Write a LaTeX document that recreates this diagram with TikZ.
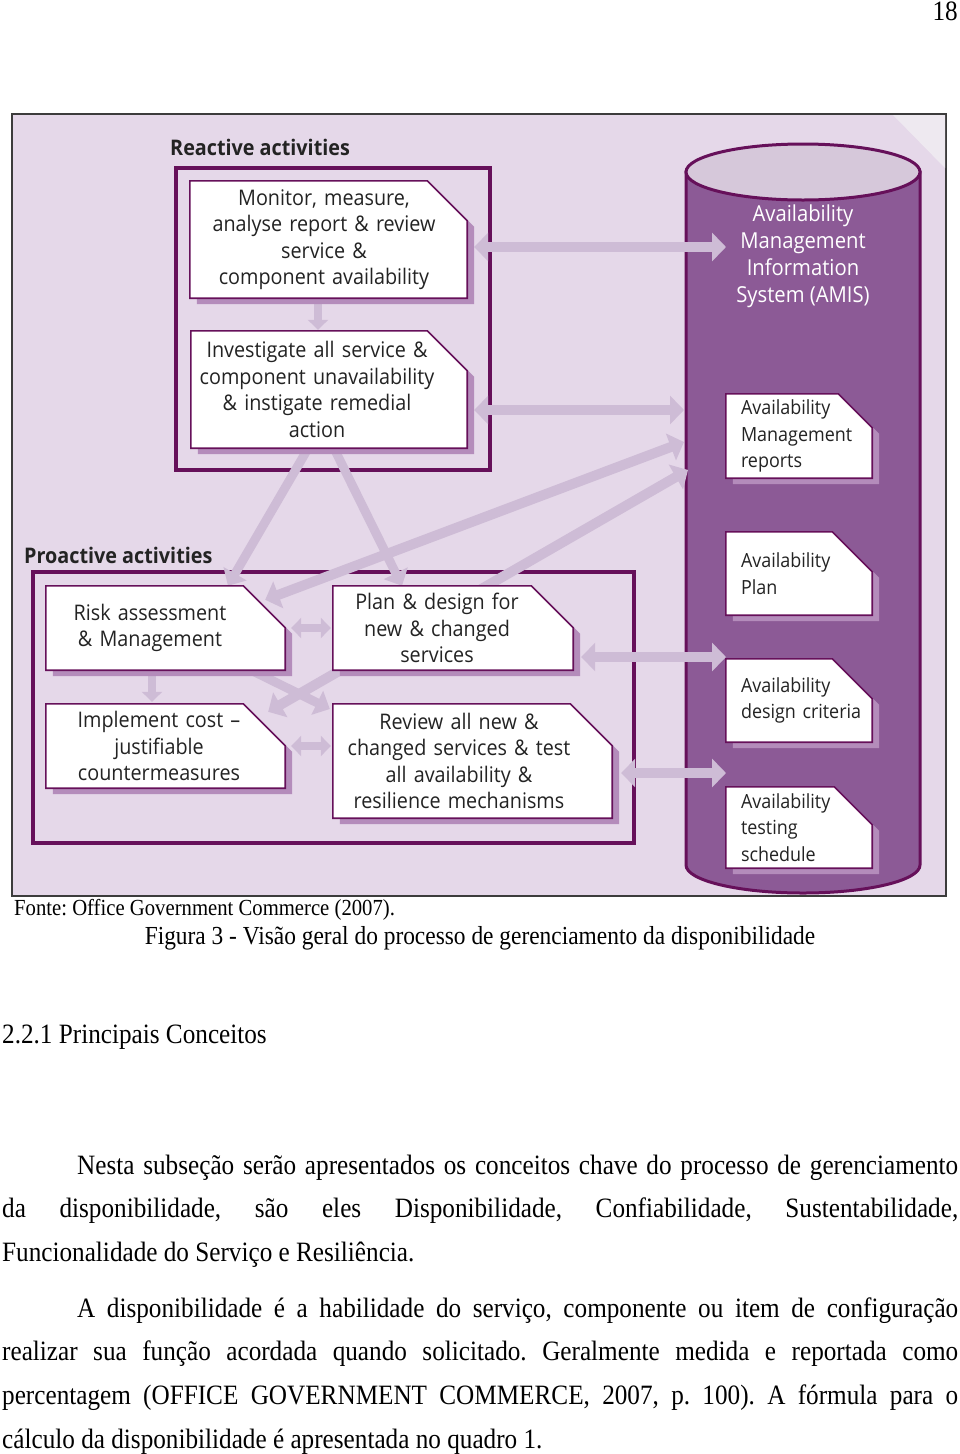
\documentclass[tikz,border=0pt]{standalone}
\usepackage{fontspec}
\setmainfont{Liberation Serif}[FakeStretch=0.9]
\newfontfamily\diagfont{Open Sans}[FakeStretch=0.92]
\usetikzlibrary{arrows.meta}

\definecolor{bgcol}{RGB}{229,216,233}
\definecolor{foldcol}{RGB}{238,233,240}
\definecolor{framecol}{RGB}{60,60,60}
\definecolor{plum}{RGB}{102,16,90}
\definecolor{cylcol}{RGB}{140,90,150}
\definecolor{cyltopcol}{RGB}{214,200,218}
\definecolor{flowcol}{RGB}{206,188,214}
\definecolor{shadecol}{RGB}{180,140,187}
\definecolor{txtcol}{RGB}{35,35,35}

\pgfdeclarelayer{bg}
\pgfdeclarelayer{frames}
\pgfdeclarelayer{flows}
\pgfdeclarelayer{docs}
\pgfsetlayers{bg,frames,flows,docs,main}

\tikzset{
  doc/.style={text=txtcol, align=center, inner sep=0pt, font=\diagfont\fontsize{21.5}{26.5}\selectfont},
  side/.style={text=txtcol, align=left, inner xsep=15pt, inner ysep=0pt, text width=116pt, font=\diagfont\fontsize{19.5}{26.5}\selectfont},
  docpaper/.style={fill=white, draw=plum, line width=1.6pt, line join=miter},
  docshade/.style={fill=shadecol},
  group/.style={draw=plum, line width=4.5pt},
  grouplabel/.style={text=txtcol, inner sep=0pt, font=\diagfont\bfseries\fontsize{21.5}{24}\selectfont},
  amis/.style={text=white, align=center, font=\diagfont\fontsize{22}{27}\selectfont},
  flow/.style={draw=flowcol, line width=10pt, {Triangle[width=28pt,length=14pt]}-{Triangle[width=28pt,length=14pt]}},
  oneway/.style={draw=flowcol, line width=9pt, -{Triangle[width=26pt,length=14pt]}},
  stub/.style={draw=flowcol, line width=8pt, {Triangle[width=20pt,length=10pt]}-{Triangle[width=20pt,length=10pt]}},
  stubdown/.style={draw=flowcol, line width=8pt, -{Triangle[width=20pt,length=10pt]}},
  body/.style={inner sep=0pt, font=\fontsize{28}{43.7}\selectfont\frenchspacing},
}

\newcommand{\docbox}[3]{%
  \begin{pgfonlayer}{docs}
    \fill[docshade] ([shift={(7,6)}]#1.south west) -- ([shift={(7,6)}]#1.north west)
      -- ([shift={(7+#2-#3,6)}]#1.north east) -- ([shift={(7+#2,6+#3)}]#1.north east)
      -- ([shift={(7+#2,6)}]#1.south east) -- cycle;
    \filldraw[docpaper] (#1.south west) -- (#1.north west)
      -- ([shift={(#2-#3,0)}]#1.north east) -- ([shift={(#2,#3)}]#1.north east)
      -- ([shift={(#2,0)}]#1.south east) -- cycle;
  \end{pgfonlayer}}

\begin{document}
\begin{tikzpicture}[x=1pt, y=-1pt]
\useasboundingbox (0,0) rectangle (960,1454);

\begin{pgfonlayer}{bg}
\fill[white] (0,0) rectangle (960,1454);
\filldraw[fill=bgcol, draw=framecol, line width=1.2pt] (12,114) rectangle (946,896);
\fill[foldcol] (893,115) -- (945,115) -- (945,168) -- cycle;
\filldraw[fill=cylcol, draw=plum, line width=3pt] (686,172) -- (686,865)
  arc[start angle=180, end angle=360, x radius=117pt, y radius=28pt] -- (920,172) -- cycle;
\filldraw[fill=cyltopcol, draw=plum, line width=3pt] (803,172) ellipse [x radius=117pt, y radius=28pt];
\end{pgfonlayer}

\begin{pgfonlayer}{frames}
\draw[group] (176,168) rectangle (490,470);
\draw[group] (33,572) rectangle (634,843);
\end{pgfonlayer}

\node[grouplabel, anchor=west] (reactlbl) at (170,147) {Reactive activities};
\node[grouplabel, anchor=west] (proactlbl) at (24,555) {Proactive activities};

\node[amis] (amis) at (803,256) {Availability\\Management\\Information\\System (AMIS)};

\node[doc, text width=268pt, minimum height=117pt] (mon) at (324,239.5) {Monitor, measure,\\analyse report \& review\\service \&\\component availability};
\node[doc, text width=252pt, minimum height=117pt] (inv) at (317,389.5) {Investigate all service \&\\component unavailability\\\& instigate remedial\\action};
\node[doc, text width=208pt, minimum height=84pt] (risk) at (150,628) {Risk assessment\\\& Management};
\node[doc, text width=226pt, minimum height=84pt] (impl) at (159,746) {Implement cost –\\justifiable\\countermeasures};
\node[doc, text width=208pt, minimum height=84pt] (plan) at (437,628) {Plan \& design for\\new \& changed\\services};
\node[doc, text width=252pt, minimum height=114pt] (rev) at (459,761) {Review all new \&\\changed services \& test\\all availability \&\\resilience mechanisms};

\node[side, minimum height=84pt] (rep) at (799,436) {Availability\\Management\\reports};
\node[side, minimum height=83pt] (avplan) at (799,573.5) {Availability\\Plan};
\node[side, minimum height=83pt] (crit) at (799,700.5) {Availability\\\mbox{design criteria}};
\node[side, minimum height=81pt] (test) at (799,827.5) {Availability\\testing\\schedule};

\docbox{mon}{9}{40}
\docbox{inv}{24}{40}
\docbox{risk}{31}{42}
\docbox{impl}{13}{42}
\docbox{plan}{32}{42}
\docbox{rev}{27}{42}
\docbox{rep}{0}{34}
\docbox{avplan}{0}{40}
\docbox{crit}{0}{40}
\docbox{test}{0}{38}

\coordinate (c-mon) at (726,247);
\coordinate (c-inv) at (684,410);
\coordinate (c-risk) at (684,442);
\coordinate (c-impl) at (688,470);
\coordinate (c-plan) at (726,657);
\coordinate (c-rev) at (726,773);

\begin{pgfonlayer}{flows}
\draw[flow] ([shift={(16,7.5)}]mon.east) -- (c-mon);
\draw[flow] ([shift={(31,20.5)}]inv.east) -- (c-inv);
\draw[oneway] ([shift={(-3,-10)}]inv.south) -- ([shift={(78,0)}]risk.north);
\draw[oneway] ([shift={(12,-10)}]inv.south) -- ([shift={(-35,0)}]plan.north);
\draw[flow] ([shift={(11,14)}]risk.north east) -- (c-risk);
\draw[flow] ([shift={(-4,8)}]impl.north east) -- (c-impl);
\draw[oneway] ([shift={(50,17)}]risk.center) -- ([shift={(-3,-52)}]rev.west);
\draw[stub] ([shift={(37,0)}]risk.east) -- ([shift={(-2,0)}]plan.west);
\draw[stub] ([shift={(19,0)}]impl.east) -- ([shift={(-2,-15)}]rev.west);
\draw[stubdown] ([shift={(2,6)}]risk.south) -- ([shift={(-7,-2)}]impl.north);
\draw[stubdown] ([shift={(-6,6)}]mon.south) -- ([shift={(1,-1)}]inv.north);
\draw[flow] ([shift={(40,29)}]plan.east) -- (c-plan);
\draw[flow] ([shift={(36,12)}]rev.east) -- (c-rev);
\end{pgfonlayer}

\node[body, anchor=base east] (pageno) at (958,20) {18};
\node[body, font=\fontsize{23}{28}\selectfont\frenchspacing, anchor=base west] (fonte) at (14,915) {Fonte: Office Government Commerce (2007).};
\node[body, font=\fontsize{26}{30}\selectfont, anchor=base] (caption) at (480,944) {Figura 3 - Visão geral do processo de gerenciamento da disponibilidade};
\node[body, anchor=base west] (heading) at (2,1043) {2.2.1 Principais Conceitos};
\node[body, anchor=base west] (para1) at (2,1174) {\vtop{%
\hbox to 956pt{\hspace*{75pt}Nesta subseção serão apresentados os conceitos chave do processo de gerenciamento}
\hbox to 956pt{da disponibilidade, são eles Disponibilidade, Confiabilidade, Sustentabilidade,}
\hbox{Funcionalidade do Serviço e Resiliência.}}};
\node[body, anchor=base west] (para2) at (2,1317) {\vtop{%
\hbox to 956pt{\hspace*{75pt}A disponibilidade é a habilidade do serviço, componente ou item de configuração}
\hbox to 956pt{realizar sua função acordada quando solicitado. Geralmente medida e reportada como}
\hbox to 956pt{percentagem (OFFICE GOVERNMENT COMMERCE, 2007, p. 100). A fórmula para o}
\hbox{cálculo da disponibilidade é apresentada no quadro 1.}}};
\end{tikzpicture}
\end{document}
